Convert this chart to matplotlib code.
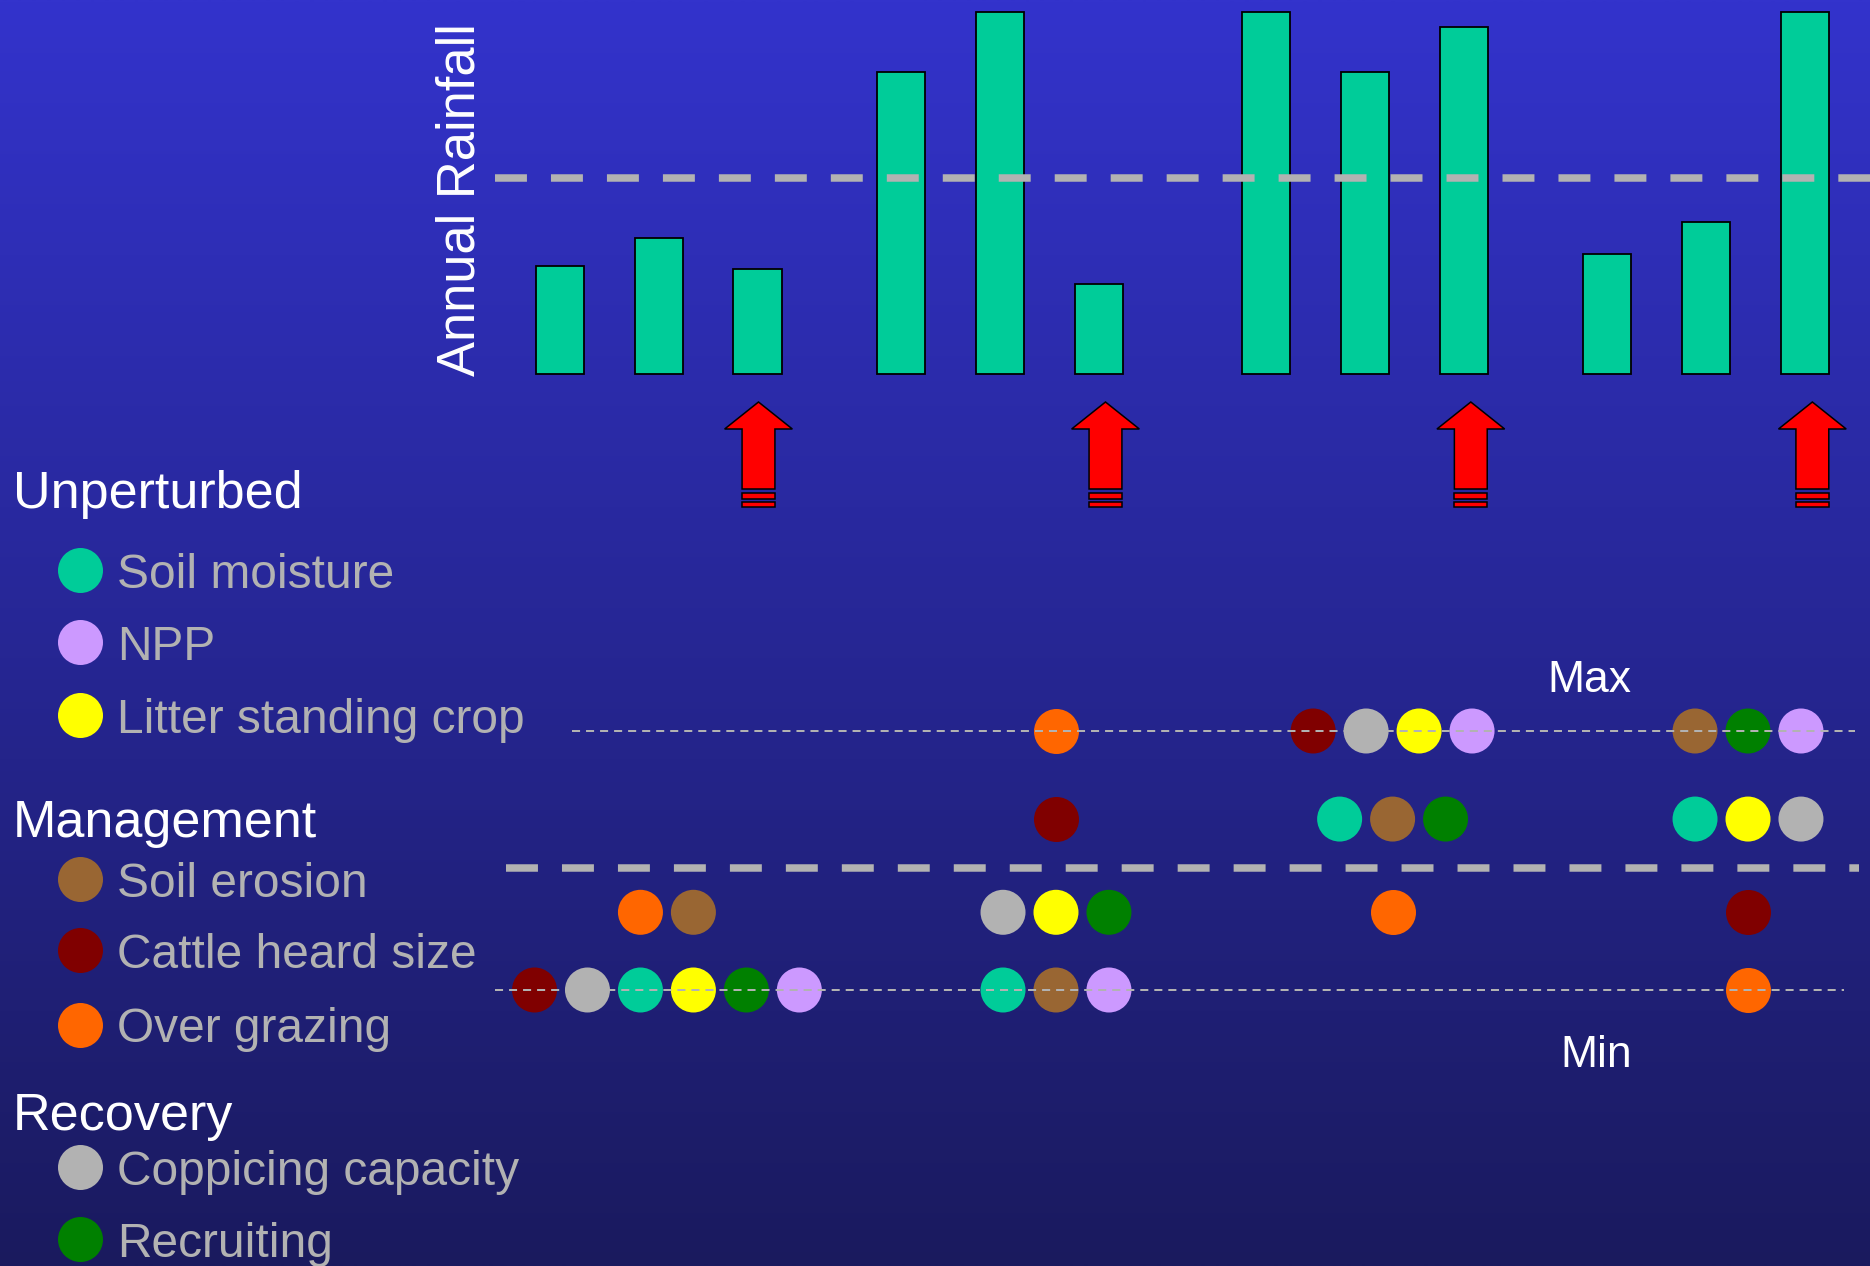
import numpy as np
import matplotlib
matplotlib.use("Agg")
import matplotlib.pyplot as plt
from matplotlib.patches import Polygon, Rectangle

plt.rcParams["font.family"] = ["Liberation Sans", "DejaVu Sans"]
plt.rcParams["lines.scale_dashes"] = False

# ── data ────────────────────────────────────────────────────────────
# annual rainfall (mm), four blocks of three years
rainfall = [217, 272, 211, 605, 725, 181, 725, 605, 695, 241, 305, 725]
rain_mean = 392
block_start = [0, 3.44, 7.13, 10.58]
event_years = [2, 5, 8, 11]          # years followed by an event arrow

indicators = ["Soil moisture", "NPP", "Litter standing crop",
              "Soil erosion", "Cattle heard size", "Over grazing",
              "Coppicing capacity", "Recruiting"]
indicator_colors = ["#00CC99", "#CC99FF", "#FFFF00",
                    "#996633", "#800000", "#FF6600",
                    "#B2B2B2", "#008000"]
groups = ["Unperturbed", "Management", "Recovery"]
group_members = [[0, 1, 2], [3, 4, 5], [6, 7]]

# state of every indicator after each event, row by row
level_value = {"Max": 1.0, "high": 0.66, "low": 0.30, "Min": 0.0}
threshold = 0.47
states_1 = {"Min": ["Cattle heard size", "Coppicing capacity", "Soil moisture",
                    "Litter standing crop", "Recruiting", "NPP"],
            "low": ["Over grazing", "Soil erosion"]}
states_2 = {"Max": ["Over grazing"],
            "high": ["Cattle heard size"],
            "low": ["Coppicing capacity", "Litter standing crop", "Recruiting"],
            "Min": ["Soil moisture", "Soil erosion", "NPP"]}
states_3 = {"Max": ["Cattle heard size", "Coppicing capacity",
                    "Litter standing crop", "NPP"],
            "high": ["Soil moisture", "Soil erosion", "Recruiting"],
            "low": ["Over grazing"]}
states_4 = {"Max": ["Soil erosion", "Recruiting", "NPP"],
            "high": ["Soil moisture", "Litter standing crop", "Coppicing capacity"],
            "low": ["Cattle heard size"],
            "Min": ["Over grazing"]}
period_states = [states_1, states_2, states_3, states_4]
period_x = [1.08, 5.01, 8.41, 12.0]

# ── styles ──────────────────────────────────────────────────────────
W, H = 1870, 1266
GREY = "#B2B2B2"
TOP, BOTTOM = np.array([0x33, 0x33, 0xCC]) / 255, np.array([0x1A, 0x1A, 0x5E]) / 255
color_of = dict(zip(indicators, indicator_colors))
PX_PER_YEAR = 99
X0 = 560                          # pixel of first year
xlim = (-X0 / PX_PER_YEAR, (W - X0) / PX_PER_YEAR)
dot_size = 1050
slot = 0.535

fig = plt.figure(figsize=(W / 100, H / 100), dpi=100)

# background gradient + legend, pixel frame
bg = fig.add_axes([0, 0, 1, 1], zorder=0)
bg.set_xlim(0, W)
bg.set_ylim(H, 0)
bg.axis("off")
t = np.linspace(0, 1, 256)[:, None, None]
grad = TOP * (1 - t) + BOTTOM * t
bg.imshow(np.repeat(grad, 2, axis=1), extent=[0, W, H, 0], aspect="auto",
          interpolation="bilinear")

# ── rainfall bars ───────────────────────────────────────────────────
ax = fig.add_axes([0, 1 - 520 / H, 1, 520 / H], zorder=1)
ax.patch.set_alpha(0)
ax.axis("off")
ax.set_xlim(*xlim)
ax.set_ylim(-(520 - 374) * 2, 374 * 2)

year_x = [block_start[i // 3] + (i % 3) * 1.0 for i in range(len(rainfall))]
year_x[2] -= 0.005
ax.bar(year_x, rainfall, width=0.485, color="#00CC99",
       edgecolor="black", linewidth=1.3, zorder=2)
ax.plot([-0.657, 13.4], [rain_mean, rain_mean], color=GREY, lw=5.4,
        dashes=(23, 17.3), zorder=3, solid_capstyle="butt")
ax.text(-0.864, 348, "Annual Rainfall", rotation=90,
        rotation_mode="anchor", ha="center", va="baseline",
        fontsize=37.8, color="white")


def event_arrow(ax, x):
    hw, sw = 0.342, 0.166
    tip, base, foot = -56, -110, -230
    pts = [(x, tip), (x + hw, base), (x + sw, base), (x + sw, foot),
           (x - sw, foot), (x - sw, base), (x - hw, base)]
    ax.add_patch(Polygon(pts, closed=True, facecolor="red",
                         edgecolor="black", lw=1.1, zorder=3))
    for y0, y1 in [(-237, -250), (-255, -265)]:
        ax.add_patch(Rectangle((x - sw, y1), 2 * sw, y0 - y1,
                               facecolor="red", edgecolor="black",
                               lw=1.1, zorder=3))


for i, yr in enumerate(event_years):
    event_arrow(ax, year_x[yr] + (0.01 if i == 0 else 0.07))

# ── indicator states ────────────────────────────────────────────────
ax2 = fig.add_axes([0, 1 - 1100 / H, 1, 500 / H], zorder=1)
ax2.patch.set_alpha(0)
ax2.axis("off")
ax2.set_xlim(*xlim)
ax2.set_ylim(-(1100 - 990) / 259, 1 + (731 - 600) / 259)

for px, states in zip(period_x, period_states):
    for level, names in states.items():
        n = len(names)
        xs = [px + (k - (n - 1) / 2) * slot for k in range(n)]
        ax2.scatter(xs, [level_value[level]] * n, s=dot_size,
                    c=[color_of[nm] for nm in names], linewidths=0, zorder=2)

ax2.plot([0.121, 13.08], [1, 1], color=GREY, lw=1.44, dashes=(5.8, 4.3), zorder=3)
ax2.plot([-0.66, 12.97], [0, 0], color=GREY, lw=1.44, dashes=(5.8, 4.3), zorder=3)
ax2.plot([-0.545, 13.12], [threshold, threshold], color=GREY, lw=5.4,
         dashes=(23, 17.3), zorder=3)

bg.text(1589, 692, "Max", ha="center", va="baseline", fontsize=32, color="white")
bg.text(1596, 1067, "Min", ha="center", va="baseline", fontsize=32, color="white")

# ── legend ──────────────────────────────────────────────────────────
header_y = [508, 836.5, 1130]
dot_y = [570, 641.7, 714.6, 879, 950, 1024.5, 1167, 1239]
for g, members, hy in zip(groups, group_members, header_y):
    bg.text(13, hy, g, ha="left", va="baseline", fontsize=37.5, color="white")
    for m in members:
        bg.scatter([80], [dot_y[m]], s=dot_size, c=indicator_colors[m],
                   linewidths=0, zorder=2)
        bg.text(117, dot_y[m] + 18, indicators[m], ha="left", va="baseline",
                fontsize=34.5, color=GREY)

fig.savefig("out.png", dpi=100)
